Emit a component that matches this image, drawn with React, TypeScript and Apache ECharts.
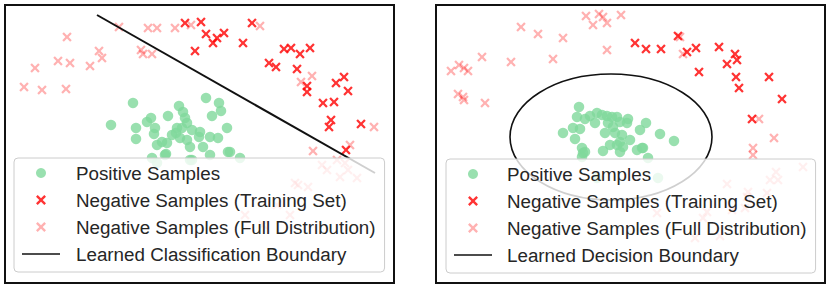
import React, { useEffect, useRef } from "react";
import * as echarts from "echarts";

// ---- data (page pixel coordinates) ----
const posLeft: number[][] = [
  [111, 125], [133, 103], [136, 128], [136, 139], [147, 122], [151, 118], [155, 128], [154, 134],
  [157, 145], [162, 142], [166, 154], [168, 116], [172, 135], [177, 128], [179, 106], [183, 112],
  [185, 118], [187, 123], [182, 128], [180, 138], [187, 140], [190, 147], [192, 130], [200, 132],
  [203, 147], [206, 98], [210, 137], [212, 116], [218, 138], [219, 103], [221, 111], [227, 128],
  [228, 152], [210, 155], [240, 158], [152, 158], [190, 160], [167, 143], [157, 163], [165, 155],
  [230, 152], [199, 137], [176, 133], [192, 160],
];
const trainLeft: number[][] = [
  [185, 23], [201, 22], [206, 34], [195, 51], [213, 43], [217, 38], [224, 33], [243, 43],
  [252, 23], [269, 63], [276, 67], [284, 49], [291, 48], [300, 54], [310, 48], [297, 69],
  [307, 86], [307, 92], [336, 83], [344, 77], [348, 91], [323, 103], [334, 102], [331, 120],
  [329, 127], [361, 124], [346, 150],
];
const fullLeft: number[][] = [
  [67, 37], [35, 68], [58, 61], [70, 63], [24, 87], [42, 90], [66, 89], [90, 66], [99, 51],
  [102, 58], [119, 27], [148, 28], [157, 28], [175, 28], [141, 50], [143, 54], [152, 54],
  [191, 25], [260, 26], [301, 82], [312, 76], [374, 127], [313, 151], [350, 145], [337, 160],
  [322, 165], [327, 170], [348, 170], [357, 178], [298, 185], [308, 187], [345, 163], [340, 177],
  [295, 183], [245, 215], [277, 205], [290, 215], [263, 225],
];
const boundaryLeft: number[][] = [[97, 15], [375, 173]];

const posRight: number[][] = [
  [579, 107], [577, 117], [585, 119], [590, 116], [597, 113], [602, 115], [607, 116], [612, 117],
  [617, 117], [628, 119], [627, 123], [646, 123], [595, 123], [608, 123], [613, 127], [620, 122],
  [573, 128], [580, 129], [563, 133], [575, 139], [605, 133], [615, 133], [622, 135], [640, 130],
  [630, 140], [660, 134], [674, 141], [620, 142], [610, 145], [623, 147], [637, 150], [642, 148],
  [582, 148], [583, 153], [603, 151], [620, 152], [648, 158], [582, 157], [643, 148], [658, 178],
  [597, 178], [617, 145], [585, 152],
];
const trainRight: number[][] = [
  [635, 43], [646, 49], [661, 49], [678, 36], [687, 52], [696, 48], [719, 47], [735, 54],
  [737, 60], [727, 64], [699, 72], [736, 77], [739, 88], [769, 77], [782, 99], [752, 119],
];
const fullRight: number[][] = [
  [521, 27], [538, 34], [563, 38], [586, 16], [593, 25], [599, 14], [603, 17], [607, 23],
  [621, 15], [607, 50], [553, 59], [511, 62], [482, 57], [459, 65], [464, 68], [468, 71],
  [451, 71], [458, 94], [463, 97], [464, 100], [485, 103], [680, 37], [683, 54], [759, 119],
  [774, 138], [753, 148], [753, 155], [803, 167], [776, 172], [770, 180], [778, 180], [727, 184],
  [748, 192], [767, 193], [707, 212], [732, 210], [745, 208], [657, 213], [695, 238], [720, 236],
  [703, 218], [747, 197],
];
// ellipse: centre x, centre y, radius x, radius y
const boundaryRight: number[][] = [[611, 137, 101, 63]];

const NAMES = {
  pos: "Positive Samples",
  train: "Negative Samples (Training Set)",
  full: "Negative Samples (Full Distribution)",
  lineL: "Learned Classification Boundary",
  lineR: "Learned Decision Boundary",
};

const CROSS =
  "path://M0,17L17,0L50,33L83,0L100,17L67,50L100,83L83,100L50,67L17,100L0,83L33,50Z";
const LINE_ICON = "path://M0,0H100V4.5H0Z";
const GREEN = "#7fd89b";
const RED = "#ff0000";
const PINK = "rgba(255,0,0,0.38)";
const FONT = "Liberation Sans";

export default function App() {
  const ref = useRef<HTMLDivElement>(null);
  useEffect(() => {
    if (!ref.current) return;
    const chart = echarts.init(ref.current, undefined, { renderer: "svg" });

    const gridBase = {
      show: true,
      top: 5,
      height: 278,
      width: 389,
      borderColor: "#111",
      borderWidth: 2,
      backgroundColor: "#fff",
    };
    const hiddenAxis = { show: false, splitLine: { show: false } };

    const scatter = (name: string, data: number[][], idx: number, kind: string) => ({
      type: "scatter",
      name,
      xAxisIndex: idx,
      yAxisIndex: idx,
      data,
      symbol: kind === "pos" ? "circle" : CROSS,
      symbolSize: kind === "pos" ? 10.5 : 9.5,
      itemStyle: { color: kind === "pos" ? GREEN : kind === "train" ? RED : PINK },
      z: kind === "pos" ? 3 : kind === "train" ? 4 : 2,
      emphasis: { disabled: true },
    });

    const legendBase = {
      orient: "vertical",
      selectedMode: false,
      z: 20,
      itemWidth: 38,
      itemHeight: 10,
      itemGap: 7,
      padding: [5, 9, 8, 8],
      backgroundColor: "rgba(255,255,255,0.8)",
      borderColor: "#cccccc",
      borderWidth: 1,
      borderRadius: 4,
      textStyle: {
        fontFamily: FONT,
        fontSize: 18.8,
        color: "#262626",
        lineHeight: 20,
        padding: [0, 0, 0, 11],
      },
    };

    chart.setOption({
      animation: false,
      backgroundColor: "#fff",
      grid: [
        { ...gridBase, left: 5 },
        { ...gridBase, left: 436 },
      ],
      xAxis: [
        { type: "value", gridIndex: 0, min: 5, max: 394, ...hiddenAxis },
        { type: "value", gridIndex: 1, min: 436, max: 825, ...hiddenAxis },
      ],
      yAxis: [
        { type: "value", gridIndex: 0, min: 5, max: 283, inverse: true, ...hiddenAxis },
        { type: "value", gridIndex: 1, min: 5, max: 283, inverse: true, ...hiddenAxis },
      ],
      legend: [
        {
          ...legendBase,
          left: 14,
          top: 158,
          data: [NAMES.pos, NAMES.train, NAMES.full, { name: NAMES.lineL, icon: LINE_ICON }],
        },
        {
          ...legendBase,
          left: 446,
          top: 159,
          textStyle: { ...legendBase.textStyle, padding: [0, 0, 0, 10] },
          data: [NAMES.pos, NAMES.train, NAMES.full, { name: NAMES.lineR, icon: LINE_ICON }],
        },
      ],
      series: [
        scatter(NAMES.full, fullLeft, 0, "full"),
        scatter(NAMES.pos, posLeft, 0, "pos"),
        scatter(NAMES.train, trainLeft, 0, "train"),
        {
          type: "line",
          name: NAMES.lineL,
          xAxisIndex: 0,
          yAxisIndex: 0,
          data: boundaryLeft,
          symbol: "none",
          lineStyle: { color: "#111", width: 2 },
          itemStyle: { color: "#111" },
          z: 5,
          emphasis: { disabled: true },
        },
        scatter(NAMES.full, fullRight, 1, "full"),
        scatter(NAMES.pos, posRight, 1, "pos"),
        scatter(NAMES.train, trainRight, 1, "train"),
        {
          type: "custom",
          name: NAMES.lineR,
          xAxisIndex: 1,
          yAxisIndex: 1,
          data: boundaryRight,
          itemStyle: { color: "#111" },
          z: 5,
          renderItem: (_p: any, api: any) => {
            const c = api.coord([api.value(0), api.value(1)]);
            const s = api.size([api.value(2), api.value(3)]);
            return {
              type: "ellipse",
              shape: { cx: c[0], cy: c[1], rx: Math.abs(s[0]), ry: Math.abs(s[1]) },
              style: { fill: "none", stroke: "#111", lineWidth: 1.6 },
            };
          },
        },
      ],
    });
    return () => chart.dispose();
  }, []);
  return (
    <div
      ref={ref}
      style={{ position: "fixed", left: 0, top: 0, width: 831, height: 288, background: "#fff" }}
    />
  );
}
